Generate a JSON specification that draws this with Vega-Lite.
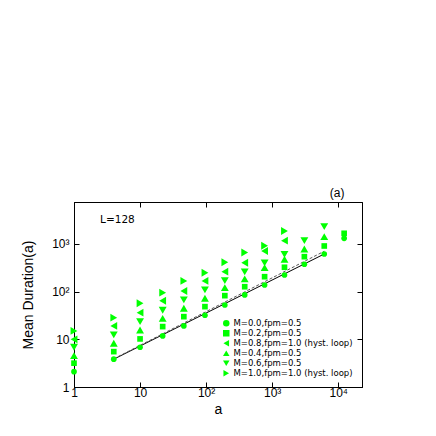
{
  "$schema": "https://vega.github.io/schema/vega-lite/v6.json",
  "autosize": "none",
  "width": 288,
  "height": 185,
  "padding": {"left": 74, "top": 202, "right": 74, "bottom": 49},
  "background": "white",
  "config": {
    "view": {"stroke": "black", "strokeWidth": 1},
    "font": "Liberation Sans",
    "axis": {"grid": false, "domainColor": "black", "tickColor": "black", "labelColor": "black", "titleColor": "black", "labelFont": "Liberation Sans", "titleFont": "Liberation Sans", "titleFontWeight": "normal", "labelFontSize": 12, "titleFontSize": 14, "tickSize": -5, "domainWidth": 1}
  },
  "title": {"text": "(a)", "anchor": "end", "fontSize": 12, "fontWeight": "normal", "font": "Liberation Sans", "color": "black", "offset": 2, "dx": -18},
  "datasets": {
    "pts": [
      {"a": 1, "d": 2.1, "series": "M=0.0,fpm=0.5"},
      {"a": 1, "d": 3.16, "series": "M=0.2,fpm=0.5"},
      {"a": 1, "d": 4.55, "series": "M=0.4,fpm=0.5"},
      {"a": 1, "d": 6.83, "series": "M=0.6,fpm=0.5"},
      {"a": 1, "d": 10.0, "series": "M=0.8,fpm=1.0 (hyst. loop)"},
      {"a": 1, "d": 15.0, "series": "M=1.0,fpm=1.0 (hyst. loop)"},
      {"a": 4, "d": 3.83, "series": "M=0.0,fpm=0.5"},
      {"a": 4, "d": 5.52, "series": "M=0.2,fpm=0.5"},
      {"a": 4, "d": 8.28, "series": "M=0.4,fpm=0.5"},
      {"a": 4, "d": 12.4, "series": "M=0.6,fpm=0.5"},
      {"a": 4, "d": 19.1, "series": "M=0.8,fpm=1.0 (hyst. loop)"},
      {"a": 4, "d": 28.5, "series": "M=1.0,fpm=1.0 (hyst. loop)"},
      {"a": 10, "d": 6.83, "series": "M=0.0,fpm=0.5"},
      {"a": 10, "d": 10.2, "series": "M=0.2,fpm=0.5"},
      {"a": 10, "d": 15.7, "series": "M=0.4,fpm=0.5"},
      {"a": 10, "d": 23.5, "series": "M=0.6,fpm=0.5"},
      {"a": 10, "d": 36.3, "series": "M=0.8,fpm=1.0 (hyst. loop)"},
      {"a": 10, "d": 57.1, "series": "M=1.0,fpm=1.0 (hyst. loop)"},
      {"a": 22, "d": 11.8, "series": "M=0.0,fpm=0.5"},
      {"a": 22, "d": 18.5, "series": "M=0.2,fpm=0.5"},
      {"a": 22, "d": 27.4, "series": "M=0.4,fpm=0.5"},
      {"a": 22, "d": 40.7, "series": "M=0.6,fpm=0.5"},
      {"a": 22, "d": 64.4, "series": "M=0.8,fpm=1.0 (hyst. loop)"},
      {"a": 22, "d": 95.3, "series": "M=1.0,fpm=1.0 (hyst. loop)"},
      {"a": 46, "d": 19.1, "series": "M=0.0,fpm=0.5"},
      {"a": 46, "d": 29.9, "series": "M=0.2,fpm=0.5"},
      {"a": 46, "d": 44.9, "series": "M=0.4,fpm=0.5"},
      {"a": 46, "d": 67.0, "series": "M=0.6,fpm=0.5"},
      {"a": 46, "d": 103, "series": "M=0.8,fpm=1.0 (hyst. loop)"},
      {"a": 46, "d": 168, "series": "M=1.0,fpm=1.0 (hyst. loop)"},
      {"a": 96, "d": 32.0, "series": "M=0.0,fpm=0.5"},
      {"a": 96, "d": 48.5, "series": "M=0.2,fpm=0.5"},
      {"a": 96, "d": 72.7, "series": "M=0.4,fpm=0.5"},
      {"a": 96, "d": 109, "series": "M=0.6,fpm=0.5"},
      {"a": 96, "d": 168, "series": "M=0.8,fpm=1.0 (hyst. loop)"},
      {"a": 96, "d": 250, "series": "M=1.0,fpm=1.0 (hyst. loop)"},
      {"a": 192, "d": 52.6, "series": "M=0.0,fpm=0.5"},
      {"a": 192, "d": 82.4, "series": "M=0.2,fpm=0.5"},
      {"a": 192, "d": 121, "series": "M=0.4,fpm=0.5"},
      {"a": 192, "d": 170, "series": "M=0.6,fpm=0.5"},
      {"a": 192, "d": 263, "series": "M=0.8,fpm=1.0 (hyst. loop)"},
      {"a": 192, "d": 413, "series": "M=1.0,fpm=1.0 (hyst. loop)"},
      {"a": 384, "d": 85.3, "series": "M=0.0,fpm=0.5"},
      {"a": 384, "d": 127, "series": "M=0.2,fpm=0.5"},
      {"a": 384, "d": 185, "series": "M=0.4,fpm=0.5"},
      {"a": 384, "d": 259, "series": "M=0.6,fpm=0.5"},
      {"a": 384, "d": 405, "series": "M=0.8,fpm=1.0 (hyst. loop)"},
      {"a": 384, "d": 663, "series": "M=1.0,fpm=1.0 (hyst. loop)"},
      {"a": 768, "d": 138, "series": "M=0.0,fpm=0.5"},
      {"a": 768, "d": 206, "series": "M=0.2,fpm=0.5"},
      {"a": 768, "d": 319, "series": "M=0.4,fpm=0.5"},
      {"a": 768, "d": 400, "series": "M=0.6,fpm=0.5"},
      {"a": 768, "d": 713, "series": "M=0.8,fpm=1.0 (hyst. loop)"},
      {"a": 768, "d": 921, "series": "M=1.0,fpm=1.0 (hyst. loop)"},
      {"a": 1536, "d": 224, "series": "M=0.0,fpm=0.5"},
      {"a": 1536, "d": 325, "series": "M=0.2,fpm=0.5"},
      {"a": 1536, "d": 478, "series": "M=0.4,fpm=0.5"},
      {"a": 1536, "d": 608, "series": "M=0.6,fpm=0.5"},
      {"a": 1536, "d": 1173, "series": "M=0.8,fpm=1.0 (hyst. loop)"},
      {"a": 1536, "d": 1874, "series": "M=1.0,fpm=1.0 (hyst. loop)"},
      {"a": 3072, "d": 375, "series": "M=0.0,fpm=0.5"},
      {"a": 3072, "d": 542, "series": "M=0.2,fpm=0.5"},
      {"a": 3072, "d": 785, "series": "M=0.4,fpm=0.5"},
      {"a": 3072, "d": 1173, "series": "M=0.6,fpm=0.5"},
      {"a": 6144, "d": 617, "series": "M=0.0,fpm=0.5"},
      {"a": 6144, "d": 908, "series": "M=0.2,fpm=0.5"},
      {"a": 6144, "d": 1422, "series": "M=0.4,fpm=0.5"},
      {"a": 6144, "d": 2306, "series": "M=0.6,fpm=0.5"},
      {"a": 12288, "d": 1316, "series": "M=0.0,fpm=0.5"},
      {"a": 12288, "d": 1675, "series": "M=0.2,fpm=0.5"}
    ],
    "fitSolid": [{"a": 4, "d": 3.83}, {"a": 6144, "d": 617}],
    "fitDashed": [{"a": 4, "d": 3.9}, {"a": 6144, "d": 705}],
    "note": [{"label": "L=128"}]
  },
  "layer": [
    {
      "data": {"name": "fitSolid"},
      "mark": {"type": "line", "color": "black", "strokeWidth": 1},
      "encoding": {
        "x": {"field": "a", "type": "quantitative", "scale": {"type": "log", "domain": [1, 22900], "nice": false}, "axis": {"values": [1, 10, 100, 1000, 10000], "labelExpr": "datum.value == 1 ? '1' : datum.value == 10 ? '10' : datum.value == 100 ? '10²' : datum.value == 1000 ? '10³' : '10⁴'", "title": "a", "labelPadding": 5, "titlePadding": 4, "labelFlush": false}},
        "y": {"field": "d", "type": "quantitative", "scale": {"type": "log", "domain": [1, 7600], "nice": false}, "axis": {"values": [1, 10, 100, 1000], "labelExpr": "datum.value == 1 ? '1' : datum.value == 10 ? '10' : datum.value == 100 ? '10²' : '10³'", "title": "Mean Duration(a)", "labelPadding": 10, "titlePadding": 16, "labelFlush": false}}
      }
    },
    {
      "data": {"name": "fitDashed"},
      "mark": {"type": "line", "color": "#555555", "strokeWidth": 1, "strokeDash": [3, 2]},
      "encoding": {
        "x": {"field": "a", "type": "quantitative", "axis": null},
        "y": {"field": "d", "type": "quantitative", "axis": null}
      }
    },
    {
      "data": {"name": "pts"},
      "transform": [{"filter": {"field": "series", "oneOf": ["M=0.0,fpm=0.5", "M=0.2,fpm=0.5"]}}],
      "mark": {"type": "point", "filled": true, "opacity": 1, "size": 32, "color": "#00ff00"},
      "encoding": {
        "x": {"field": "a", "type": "quantitative", "axis": null},
        "y": {"field": "d", "type": "quantitative", "axis": null},
        "shape": {"field": "series", "type": "nominal",
          "scale": {"domain": ["M=0.0,fpm=0.5", "M=0.2,fpm=0.5", "M=0.8,fpm=1.0 (hyst. loop)", "M=0.4,fpm=0.5", "M=0.6,fpm=0.5", "M=1.0,fpm=1.0 (hyst. loop)"],
                    "range": ["circle", "square", "triangle-left", "triangle-up", "triangle-down", "triangle-right"]},
          "legend": {"title": null, "orient": "none", "legendX": 148, "legendY": 117, "labelFontSize": 8.5, "labelFont": "DejaVu Sans", "labelColor": "black", "symbolSize": 42, "symbolFillColor": "#00ff00", "symbolStrokeWidth": 0, "symbolType": "circle", "labelOffset": 3, "rowPadding": 1, "padding": 0}
        }
      }
    },
    {
      "data": {"name": "pts"},
      "transform": [{"filter": {"field": "series", "oneOf": ["M=0.8,fpm=1.0 (hyst. loop)", "M=0.4,fpm=0.5", "M=0.6,fpm=0.5", "M=1.0,fpm=1.0 (hyst. loop)"]}}],
      "mark": {"type": "point", "filled": true, "opacity": 1, "size": 62, "color": "#00ff00"},
      "encoding": {
        "x": {"field": "a", "type": "quantitative", "axis": null},
        "y": {"field": "d", "type": "quantitative", "axis": null},
        "shape": {"field": "series", "type": "nominal"}
      }
    },
    {
      "data": {"name": "note"},
      "mark": {"type": "text", "align": "left", "baseline": "middle", "fontSize": 10.5, "font": "DejaVu Sans", "color": "black"},
      "encoding": {
        "text": {"field": "label"},
        "x": {"datum": 2.48, "type": "quantitative", "axis": null},
        "y": {"datum": 3186, "type": "quantitative", "axis": null}
      }
    },
    {
      "data": {"name": "fitSolid"},
      "mark": {"type": "line", "opacity": 0},
      "encoding": {
        "x": {"field": "a", "type": "quantitative", "axis": {"orient": "top", "values": [1, 10, 100, 1000, 10000], "labels": false, "title": null}},
        "y": {"field": "d", "type": "quantitative", "axis": {"orient": "right", "values": [1, 10, 100, 1000], "labels": false, "title": null}}
      }
    }
  ],
  "resolve": {"axis": {"x": "independent", "y": "independent"}}
}
